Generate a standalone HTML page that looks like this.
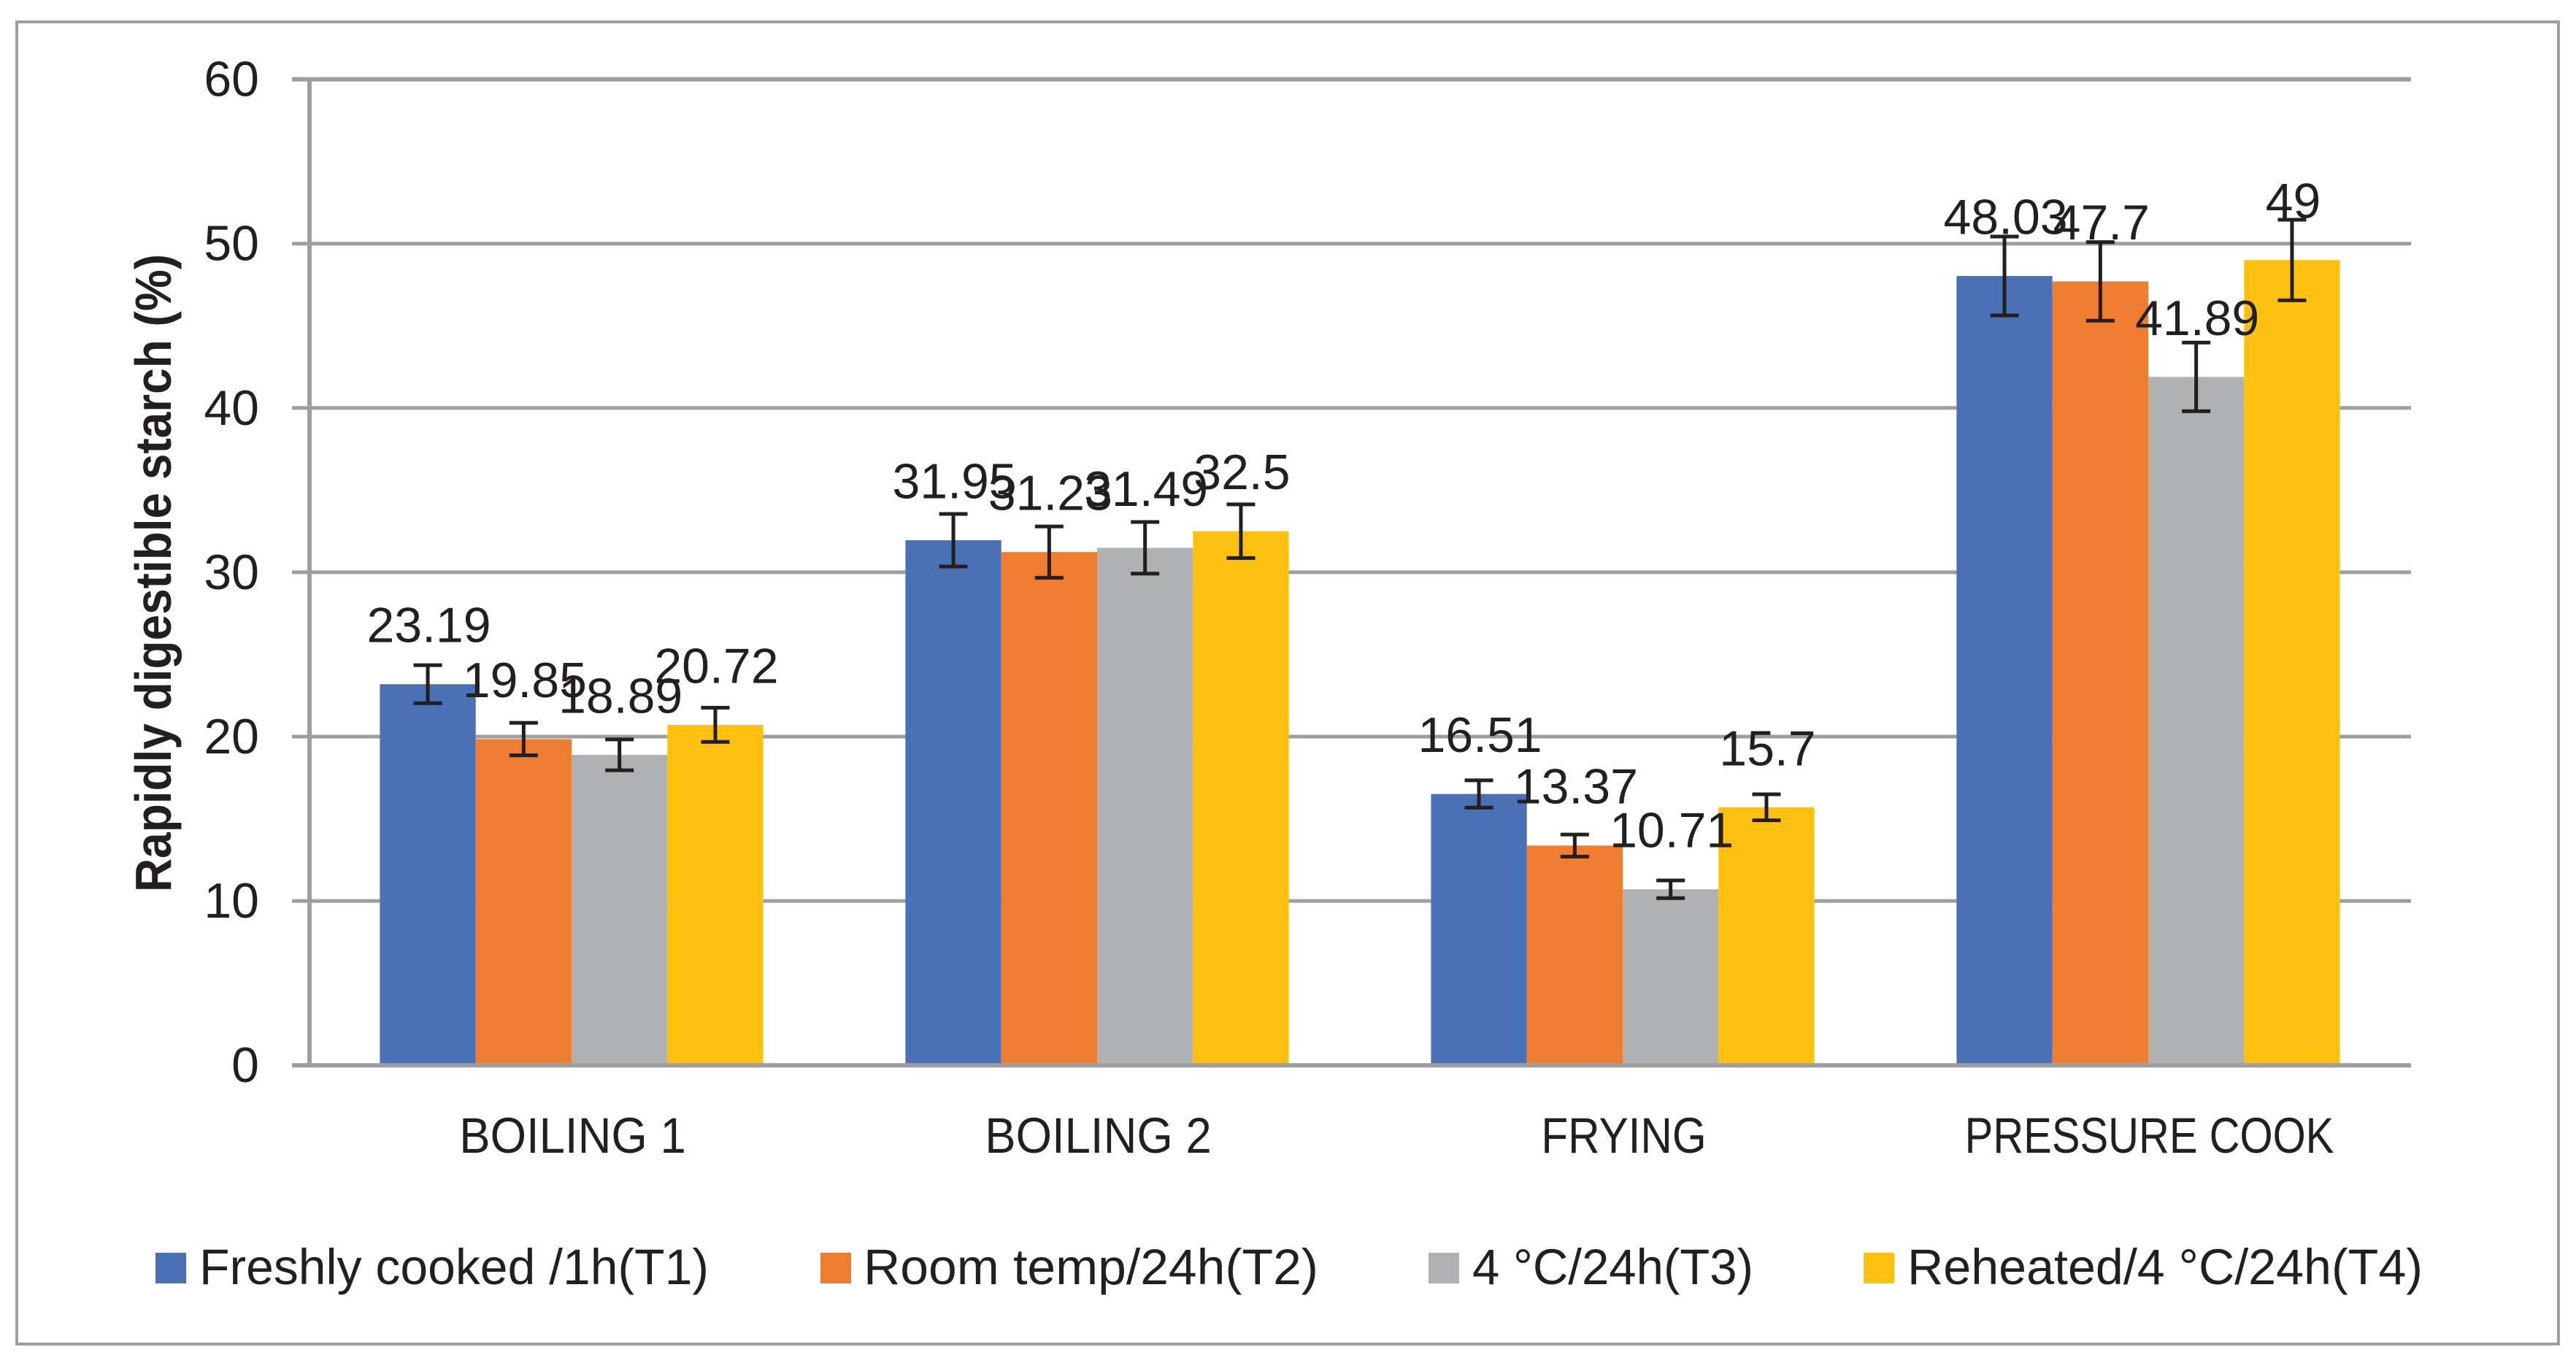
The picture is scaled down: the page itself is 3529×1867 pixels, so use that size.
<!DOCTYPE html>
<html lang="en">
<head>
<meta charset="utf-8">
<title>Rapidly digestible starch chart</title>
<style>
html,body{margin:0;padding:0;background:#fff;}
svg{display:block;}
text{font-family:"Liberation Sans",sans-serif;fill:#231f20;}
</style>
</head>
<body>
<svg id="chart" xmlns="http://www.w3.org/2000/svg" width="3529" height="1867" viewBox="0 0 3529 1867">
  <rect x="0" y="0" width="3529" height="1867" fill="#ffffff"/>
  <rect x="23" y="30" width="3482" height="1811" fill="none" stroke="#9d9ea2" stroke-width="4"/>
  <g id="grid"></g>
  <g id="bars"></g>
  <g id="axes"></g>
  <g id="errors"></g>
  <g id="labels"></g>
  <g id="ticks"></g>
  <g id="cats"></g>
  <text transform="translate(234 1222) rotate(-90)" font-size="70" font-weight="700" textLength="874" lengthAdjust="spacingAndGlyphs">Rapidly digestible starch (%)</text>
  <g>
    <g>
      <rect x="213" y="1716" width="42" height="42" fill="#4a71b5"/>
      <text x="273" y="1759" font-size="69" textLength="698" lengthAdjust="spacingAndGlyphs">Freshly cooked /1h(T1)</text>
    </g>
    <g>
      <rect x="1124" y="1716" width="42" height="42" fill="#ee7d31"/>
      <text x="1183" y="1759" font-size="69" textLength="623" lengthAdjust="spacingAndGlyphs">Room temp/24h(T2)</text>
    </g>
    <g>
      <rect x="1957" y="1716" width="42" height="42" fill="#b0b1b3"/>
      <text x="2017" y="1759" font-size="69" textLength="385" lengthAdjust="spacingAndGlyphs">4 °C/24h(T3)</text>
    </g>
    <g>
      <rect x="2553" y="1716" width="42" height="42" fill="#ffc111"/>
      <text x="2613" y="1759" font-size="69" textLength="706" lengthAdjust="spacingAndGlyphs">Reheated/4 °C/24h(T4)</text>
    </g>
  </g>
</svg>
<script>
const categories = ["BOILING 1", "BOILING 2", "FRYING", "PRESSURE COOK"];
const yTicks = [0, 10, 20, 30, 40, 50, 60];
const seriesT1 = [23.19, 31.95, 16.51, 48.03];
const seriesT2 = [19.85, 31.23, 13.37, 47.7];
const seriesT3 = [18.89, 31.49, 10.71, 41.89];
const seriesT4 = [20.72, 32.5, 15.7, 49];
const errorT1 = [1.16, 1.6, 0.83, 2.4];
const errorT2 = [0.99, 1.56, 0.67, 2.39];
const errorT3 = [0.94, 1.57, 0.54, 2.09];
const errorT4 = [1.04, 1.63, 0.79, 2.45];

const allSeries = [seriesT1, seriesT2, seriesT3, seriesT4];
const allErrors = [errorT1, errorT2, errorT3, errorT4];
const seriesColors = ["#4a71b5", "#ee7d31", "#b0b1b3", "#ffc111"];
const seriesKeys = ["t1", "t2", "t3", "t4"];

const SVGNS = "http://www.w3.org/2000/svg";
const yAxisMax = 60;
const plotLeft = 423, plotRight = 3303, plotTop = 108.6, plotBottom = 1459.2;
const barWidth = 131.3;
const capWidth = 39;
const lineColor = "#9d9ea2";
const inkColor = "#231f20";

function yScale(v) {
  return plotBottom - (v / yAxisMax) * (plotBottom - plotTop);
}
function bandStart(i) {
  const band = (plotRight - plotLeft) / categories.length;
  return plotLeft + band * i + (band - barWidth * allSeries.length) / 2;
}
function bandCenter(i) {
  const band = (plotRight - plotLeft) / categories.length;
  return plotLeft + band * i + band / 2;
}
function xBar(cat, s) {
  return bandStart(cat) + s * barWidth;
}

const capWidths = {B:.544,O:.662,I:.252,L:.42,N:.646,G:.631," ":.226,P:.517,R:.543,E:.488,S:.459,U:.642,C:.533,K:.52,F:.459,Y:.487};
function labelWidth(str) {
  let w = 0;
  for (const ch of str) { w += (capWidths[ch] !== undefined ? capWidths[ch] : .507); }
  return w * 75;
}
function make(tag, attrs) {
  const el = document.createElementNS(SVGNS, tag);
  for (const k in attrs) { el.setAttribute(k, attrs[k]); }
  return el;
}

const gridG = document.getElementById("grid");
const barsG = document.getElementById("bars");
const axesG = document.getElementById("axes");
const errG = document.getElementById("errors");
const labG = document.getElementById("labels");
const tickG = document.getElementById("ticks");
const catG = document.getElementById("cats");

yTicks.forEach(function (t) {
  const y = yScale(t);
  const thick = (t === 0 || t === yAxisMax) ? 6 : 5;
  const line = make("line", {x1: 400, x2: plotRight, y1: y, y2: y, stroke: lineColor, "stroke-width": thick});
  
  
  (t === 0 ? axesG : gridG).appendChild(line);

  const label = make("text", {x: 355, y: y + 23, "font-size": 68, "text-anchor": "end"});
  label.textContent = String(t);
  
  
  tickG.appendChild(label);
});

const yAxisLine = make("line", {x1: 424, x2: 424, y1: plotTop, y2: plotBottom, stroke: lineColor, "stroke-width": 6});


gridG.appendChild(yAxisLine);

categories.forEach(function (name, c) {
  const label = make("text", {
    x: bandCenter(c) + 1.5, y: 1579, "font-size": 69, "text-anchor": "middle",
    textLength: labelWidth(name), lengthAdjust: "spacingAndGlyphs"
  });
  label.textContent = name;
  
  
  catG.appendChild(label);

  allSeries.forEach(function (series, s) {
    const v = series[c];
    const e = allErrors[s][c];
    const x = xBar(c, s);
    const top = yScale(v);
    const cx = x + barWidth / 2;

    const bar = make("rect", {x: x, y: top, width: barWidth, height: plotBottom - top, fill: seriesColors[s]});
    
    
    barsG.appendChild(bar);

    const yHi = yScale(v + e), yLo = yScale(v - e);
    const group = make("g", {stroke: inkColor, fill: "none"});
    
    
    group.appendChild(make("line", {x1: cx, x2: cx, y1: yHi, y2: yLo, "stroke-width": 5}));
    group.appendChild(make("line", {x1: cx - capWidth / 2, x2: cx + capWidth / 2, y1: yHi, y2: yHi, "stroke-width": 5}));
    group.appendChild(make("line", {x1: cx - capWidth / 2, x2: cx + capWidth / 2, y1: yLo, y2: yLo, "stroke-width": 5}));
    errG.appendChild(group);

    const valueLabel = make("text", {x: cx + 1.5, y: top - 57.5, "font-size": 68, "text-anchor": "middle"});
    valueLabel.textContent = String(v);
    
    
    labG.appendChild(valueLabel);
  });
});
</script>
</body>
</html>
